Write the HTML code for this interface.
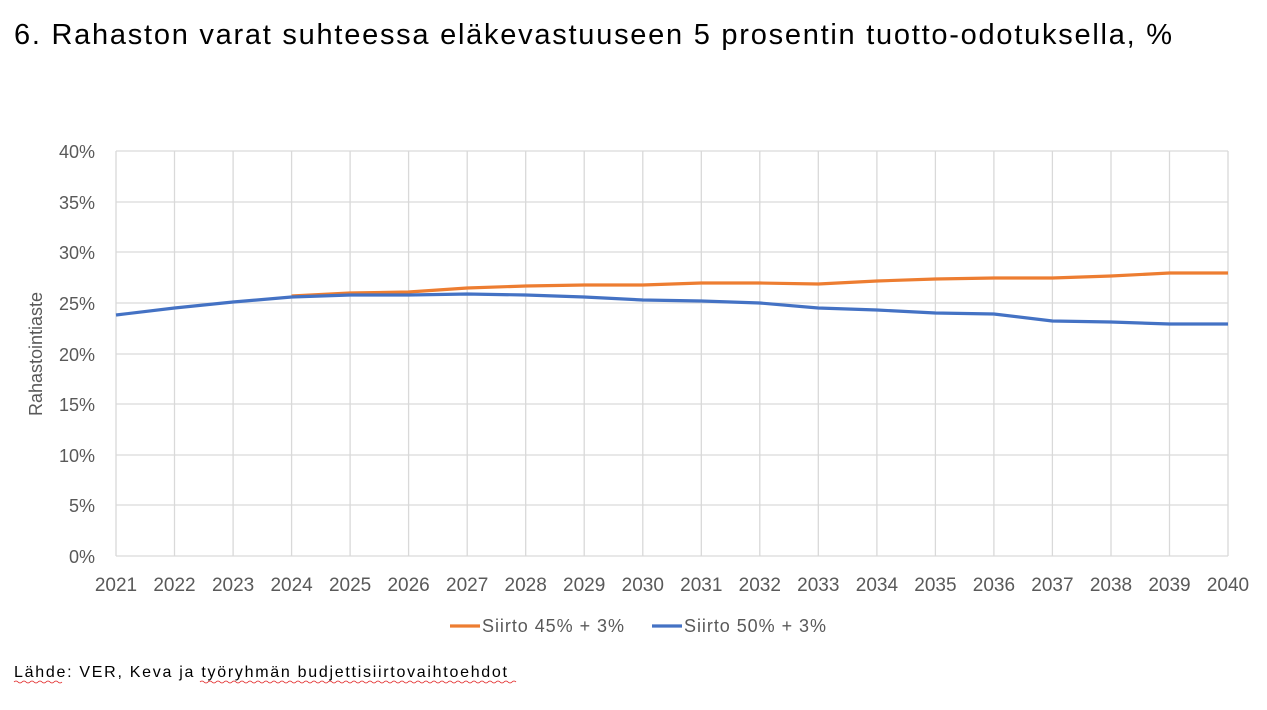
<!DOCTYPE html>
<html><head><meta charset="utf-8"><style>
body{margin:0;background:#fff;width:1267px;height:705px;overflow:hidden;font-family:"Liberation Sans",sans-serif}
</style></head><body>
<svg width="1267" height="705" xmlns="http://www.w3.org/2000/svg" font-family="Liberation Sans, sans-serif">
<text x="14" y="44" font-size="29" fill="#000" textLength="1158" lengthAdjust="spacing">6. Rahaston varat suhteessa eläkevastuuseen 5 prosentin tuotto-odotuksella, %</text>
<g stroke="#d9d9d9" stroke-width="1.3">
<line x1="116" y1="151" x2="1228" y2="151"/><line x1="116" y1="202" x2="1228" y2="202"/>
<line x1="116" y1="252" x2="1228" y2="252"/><line x1="116" y1="303" x2="1228" y2="303"/>
<line x1="116" y1="354" x2="1228" y2="354"/><line x1="116" y1="404" x2="1228" y2="404"/>
<line x1="116" y1="455" x2="1228" y2="455"/><line x1="116" y1="505" x2="1228" y2="505"/>
<line x1="116" y1="556" x2="1228" y2="556"/>
<line x1="116" y1="151" x2="116" y2="556"/><line x1="174.5" y1="151" x2="174.5" y2="556"/><line x1="233.1" y1="151" x2="233.1" y2="556"/><line x1="291.6" y1="151" x2="291.6" y2="556"/><line x1="350.1" y1="151" x2="350.1" y2="556"/><line x1="408.6" y1="151" x2="408.6" y2="556"/><line x1="467.2" y1="151" x2="467.2" y2="556"/><line x1="525.7" y1="151" x2="525.7" y2="556"/><line x1="584.2" y1="151" x2="584.2" y2="556"/><line x1="642.8" y1="151" x2="642.8" y2="556"/><line x1="701.3" y1="151" x2="701.3" y2="556"/><line x1="759.8" y1="151" x2="759.8" y2="556"/><line x1="818.3" y1="151" x2="818.3" y2="556"/><line x1="876.9" y1="151" x2="876.9" y2="556"/><line x1="935.4" y1="151" x2="935.4" y2="556"/><line x1="993.9" y1="151" x2="993.9" y2="556"/><line x1="1052.4" y1="151" x2="1052.4" y2="556"/><line x1="1111" y1="151" x2="1111" y2="556"/><line x1="1169.5" y1="151" x2="1169.5" y2="556"/><line x1="1228" y1="151" x2="1228" y2="556"/>
</g>
<g font-size="18" fill="#595959" text-anchor="end">
<text x="95" y="158">40%</text><text x="95" y="209">35%</text><text x="95" y="259">30%</text><text x="95" y="310">25%</text><text x="95" y="361">20%</text><text x="95" y="411">15%</text><text x="95" y="462">10%</text><text x="95" y="512">5%</text><text x="95" y="563">0%</text>
</g>
<g font-size="19" fill="#595959" text-anchor="middle">
<text x="116" y="591">2021</text><text x="174.5" y="591">2022</text><text x="233.1" y="591">2023</text><text x="291.6" y="591">2024</text><text x="350.1" y="591">2025</text><text x="408.6" y="591">2026</text><text x="467.2" y="591">2027</text><text x="525.7" y="591">2028</text><text x="584.2" y="591">2029</text><text x="642.8" y="591">2030</text><text x="701.3" y="591">2031</text><text x="759.8" y="591">2032</text><text x="818.3" y="591">2033</text><text x="876.9" y="591">2034</text><text x="935.4" y="591">2035</text><text x="993.9" y="591">2036</text><text x="1052.4" y="591">2037</text><text x="1111" y="591">2038</text><text x="1169.5" y="591">2039</text><text x="1228" y="591">2040</text>
</g>
<text transform="translate(42,354) rotate(-90)" font-size="18" fill="#595959" text-anchor="middle">Rahastointiaste</text>
<polyline fill="none" stroke="#ed7d31" stroke-width="3.2" stroke-linejoin="round" points="291.6,296 350.1,293 408.6,292 467.2,288 525.7,286 584.2,285 642.8,285 701.3,283 759.8,283 818.3,284 876.9,281 935.4,279 993.9,278 1052.4,278 1111,276 1169.5,273 1228,273"/>
<polyline fill="none" stroke="#4472c4" stroke-width="3.2" stroke-linejoin="round" points="116,315 174.5,308 233.1,302 291.6,297 350.1,295 408.6,295 467.2,294 525.7,295 584.2,297 642.8,300 701.3,301 759.8,303 818.3,308 876.9,310 935.4,313 993.9,314 1052.4,321 1111,322 1169.5,324 1228,324"/>
<line x1="450" y1="626" x2="480" y2="626" stroke="#ed7d31" stroke-width="3.2"/>
<text x="482" y="632" font-size="18" fill="#595959" textLength="142" lengthAdjust="spacing">Siirto 45% + 3%</text>
<line x1="652" y1="626" x2="682" y2="626" stroke="#4472c4" stroke-width="3.2"/>
<text x="684" y="632" font-size="18" fill="#595959" textLength="142" lengthAdjust="spacing">Siirto 50% + 3%</text>
<text x="14" y="677" font-size="16" fill="#000" textLength="493" lengthAdjust="spacing">Lähde: VER, Keva ja työryhmän budjettisiirtovaihtoehdot</text>
<path d="M14 682 q2 -2 4 0 t4 0 t4 0 t4 0 t4 0 t4 0 t4 0 t4 0 t4 0 t4 0 t4 0 t4 0" fill="none" stroke="#e02020" stroke-width="0.8"/>
<path d="M200 682 q2 -2 4 0 t4 0 t4 0 t4 0 t4 0 t4 0 t4 0 t4 0 t4 0 t4 0 t4 0 t4 0 t4 0 t4 0 t4 0 t4 0 t4 0 t4 0 t4 0 t4 0 t4 0 t4 0 t4 0 t4 0 t4 0 t4 0 t4 0 t4 0 t4 0 t4 0 t4 0 t4 0 t4 0 t4 0 t4 0 t4 0 t4 0 t4 0 t4 0 t4 0 t4 0 t4 0 t4 0 t4 0 t4 0 t4 0 t4 0 t4 0 t4 0 t4 0 t4 0 t4 0 t4 0 t4 0 t4 0 t4 0 t4 0 t4 0 t4 0 t4 0 t4 0 t4 0 t4 0 t4 0 t4 0 t4 0 t4 0 t4 0 t4 0 t4 0 t4 0 t4 0 t4 0 t4 0 t4 0 t4 0 t4 0 t4 0 t4 0" fill="none" stroke="#e02020" stroke-width="0.8"/>
</svg>
</body></html>
